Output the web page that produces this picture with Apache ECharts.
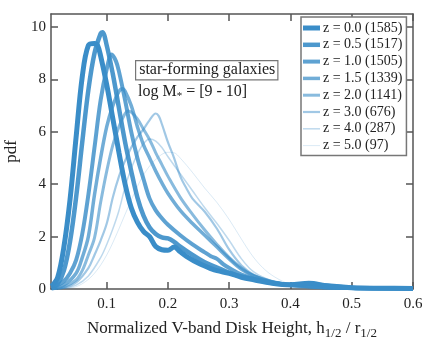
<!DOCTYPE html>
<html>
<head>
<meta charset="utf-8">
<script src="https://cdn.jsdelivr.net/npm/echarts@6/dist/echarts.min.js"></script>
<style>
  html, body { margin: 0; padding: 0; background: #fff; }
  #chart { width: 436px; height: 337px; }
</style>
</head>
<body>
<div id="chart"></div>
<script>
// legend labels, one per redshift bin
const labels = ["z = 0.0 (1585)", "z = 0.5 (1517)", "z = 1.0 (1505)", "z = 1.5 (1339)",
  "z = 2.0 (1141)", "z = 3.0 (676)", "z = 4.0 (287)", "z = 5.0 (97)"];

// pdf curves, [h/r, pdf]
const z00 = [[0.01,0.1],[0.02,0.45],[0.03,1.6],[0.04,3.4],[0.05,5.8],[0.06,8.1],[0.07,9.3],[0.08,9.37],[0.085,9.3],[0.09,8.9],[0.1,7.8],[0.11,6.5],[0.12,5.2],[0.13,4.0],[0.14,3.1],[0.15,2.55],[0.16,2.2],[0.17,2.0],[0.18,1.62],[0.19,1.5],[0.2,1.48],[0.21,1.6],[0.22,1.42],[0.23,1.25],[0.25,0.98],[0.27,0.78],[0.28,0.7],[0.3,0.6],[0.32,0.45],[0.34,0.35],[0.37,0.22],[0.4,0.16],[0.43,0.22],[0.46,0.12],[0.5,0.05],[0.55,0.03],[0.6,0.02]];
const z05 = [[0.01,0.05],[0.02,0.2],[0.03,0.7],[0.04,1.8],[0.05,3.5],[0.06,5.6],[0.07,7.6],[0.08,9.0],[0.09,9.75],[0.093,9.8],[0.1,9.3],[0.11,8.2],[0.12,6.9],[0.13,5.6],[0.14,4.5],[0.15,3.5],[0.16,2.8],[0.17,2.35],[0.18,2.1],[0.19,1.97],[0.2,1.93],[0.21,1.8],[0.22,1.62],[0.24,1.3],[0.26,1.02],[0.28,0.82],[0.3,0.62],[0.32,0.48],[0.35,0.33],[0.38,0.2],[0.4,0.16],[0.43,0.2],[0.46,0.12],[0.5,0.05],[0.6,0.02]];
const z10 = [[0.01,0.02],[0.03,0.3],[0.04,0.6],[0.05,1.1],[0.06,2.1],[0.07,3.6],[0.08,5.4],[0.09,7.2],[0.1,8.4],[0.108,8.95],[0.115,8.7],[0.12,8.3],[0.13,7.2],[0.14,6.0],[0.15,5.0],[0.16,4.2],[0.17,3.45],[0.18,3.0],[0.19,2.7],[0.2,2.45],[0.22,2.05],[0.24,1.7],[0.26,1.4],[0.27,1.25],[0.28,1.15],[0.29,0.95],[0.3,0.8],[0.32,0.55],[0.35,0.33],[0.38,0.2],[0.4,0.15],[0.45,0.08],[0.5,0.04],[0.6,0.01]];
const z15 = [[0.01,0.01],[0.03,0.15],[0.05,0.6],[0.06,1.2],[0.07,2.0],[0.08,3.6],[0.09,5.0],[0.1,6.2],[0.11,7.0],[0.12,7.55],[0.126,7.65],[0.13,7.55],[0.14,7.0],[0.15,6.2],[0.16,5.5],[0.17,5.0],[0.18,4.5],[0.19,4.05],[0.2,3.65],[0.22,3.0],[0.24,2.5],[0.26,2.05],[0.28,1.6],[0.3,1.15],[0.32,0.75],[0.34,0.5],[0.37,0.28],[0.4,0.15],[0.45,0.06],[0.5,0.03],[0.6,0.01]];
const z20 = [[0.01,0],[0.03,0.08],[0.05,0.35],[0.06,0.7],[0.07,1.3],[0.08,1.95],[0.09,3.3],[0.1,4.5],[0.11,5.5],[0.12,6.2],[0.13,6.7],[0.135,6.8],[0.14,6.75],[0.15,6.5],[0.16,6.1],[0.17,5.7],[0.18,5.2],[0.19,4.75],[0.2,4.3],[0.22,3.5],[0.24,2.85],[0.26,2.25],[0.28,1.7],[0.3,1.2],[0.32,0.8],[0.34,0.5],[0.37,0.28],[0.4,0.15],[0.45,0.06],[0.5,0.02],[0.6,0]];
const z30 = [[0.01,0],[0.03,0.05],[0.05,0.25],[0.07,0.8],[0.08,1.3],[0.09,1.85],[0.1,2.5],[0.11,3.5],[0.12,4.3],[0.13,4.9],[0.14,5.4],[0.15,5.8],[0.16,6.1],[0.17,6.45],[0.18,6.7],[0.185,6.6],[0.19,6.3],[0.2,5.6],[0.21,5.0],[0.22,4.3],[0.23,3.85],[0.24,3.45],[0.26,2.95],[0.28,2.3],[0.3,1.5],[0.32,0.9],[0.34,0.55],[0.37,0.25],[0.4,0.1],[0.45,0.03],[0.5,0.01],[0.6,0]];
const z40 = [[0.01,0],[0.03,0.03],[0.05,0.15],[0.07,0.5],[0.09,1.2],[0.1,1.7],[0.11,2.3],[0.12,3.0],[0.13,3.9],[0.14,4.6],[0.15,5.15],[0.16,5.55],[0.17,5.73],[0.18,5.65],[0.19,5.4],[0.2,5.05],[0.22,4.4],[0.24,3.75],[0.26,3.1],[0.28,2.5],[0.3,1.85],[0.32,1.15],[0.34,0.65],[0.37,0.3],[0.4,0.12],[0.45,0.03],[0.5,0.01],[0.6,0]];
const z50 = [[0.01,0],[0.04,0.03],[0.06,0.2],[0.08,0.6],[0.1,1.3],[0.12,2.3],[0.14,3.4],[0.16,4.35],[0.18,4.95],[0.2,5.22],[0.21,5.2],[0.22,5.0],[0.24,4.45],[0.26,3.85],[0.28,3.3],[0.3,2.65],[0.32,1.9],[0.34,1.2],[0.36,0.7],[0.38,0.38],[0.4,0.18],[0.43,0.05],[0.5,0.01],[0.6,0]];

const xTicks = [0.1, 0.2, 0.3, 0.4, 0.5, 0.6];
const yTicks = [0, 2, 4, 6, 8, 10];

const curves = [z00, z05, z10, z15, z20, z30, z40, z50];
const widths = [5, 4.5, 4, 3.5, 3, 2.2, 1.5, 1];
const alphas = [1, 0.9, 0.82, 0.72, 0.6, 0.48, 0.33, 0.18];

const serif = "'Liberation Serif', 'DejaVu Serif', serif";
const frame = "#555";

function blue(a) {
  return "rgba(58,141,200," + a + ")";
}

let chart = echarts.init(document.getElementById("chart"));

let series = [];
let legendItems = [];
for (let i = 0; i < curves.length; i++) {
  series.push({
    name: labels[i],
    type: "line",
    data: curves[i],
    smooth: 0.35,
    symbol: "none",
    z: 20 - i,
    lineStyle: { width: widths[i], color: blue(alphas[i]) },
    itemStyle: { color: blue(alphas[i]) },
  });
  // flat bar as legend sample, as thick as the line
  legendItems.push({
    name: labels[i],
    icon: "path://M0,0H34V" + widths[i] * 2 + "H0Z",
    itemStyle: { color: blue(alphas[i]), borderWidth: 0 },
  });
}

function tickAxis(pos, isX, showLabel) {
  let ax = {
    type: "value",
    position: pos,
    min: isX ? 0.009 : 0,
    max: isX ? 0.6 : 10.5,
    splitLine: { show: false },
    axisLine: { show: true, onZero: false, lineStyle: { color: frame, width: 1.5 } },
    axisTick: { show: true, inside: true, length: 7, lineStyle: { color: frame, width: 1.5 },
      customValues: isX ? xTicks : yTicks },
    axisLabel: { show: showLabel, fontFamily: serif, fontSize: 15, color: "#222",
      margin: isX ? 8 : 5, customValues: isX ? xTicks : yTicks },
  };
  return ax;
}

let xMain = tickAxis("bottom", true, true);
xMain.name = "{a|Normalized V-band Disk Height, h}{s|1/2}{a| / r}{s|1/2}";
xMain.nameLocation = "middle";
xMain.nameGap = 25;
xMain.nameTextStyle = {
  rich: {
    a: { fontFamily: serif, fontSize: 17, color: "#222", lineHeight: 20 },
    s: { fontFamily: serif, fontSize: 13, color: "#222", padding: [10, 0, 0, 0], lineHeight: 20 },
  },
};
let yMain = tickAxis("left", false, true);
yMain.name = "pdf";
yMain.nameLocation = "middle";
yMain.nameGap = 21;
yMain.nameTextStyle = { fontFamily: serif, fontSize: 17, color: "#222" };

let option = {
  animation: false,
  backgroundColor: "#fff",
  grid: { left: 51, right: 23, top: 14, bottom: 48, containLabel: false, outerBoundsMode: "none" },
  xAxis: [xMain, tickAxis("top", true, false)],
  yAxis: [yMain, tickAxis("right", false, false)],
  legend: {
    data: legendItems,
    orient: "vertical",
    left: 301,
    top: 17,
    itemWidth: 17,
    itemHeight: 14,
    itemGap: 2.8,
    padding: [4, 4, 3, 2],
    borderColor: "#777",
    borderWidth: 1.5,
    backgroundColor: "#fff",
    textStyle: { fontFamily: serif, fontSize: 14, color: "#222", padding: [0, 0, 0, -2] },
  },
  graphic: [
    {
      type: "text",
      left: 135,
      top: 60,
      z: 50,
      style: {
        text: "star-forming galaxies",
        font: "16px " + serif,
        fill: "#222",
        backgroundColor: "#fff",
        borderColor: "#777",
        borderWidth: 1.2,
        padding: [1, 2, 1, 3],
      },
    },
    {
      type: "text",
      left: 138,
      top: 84,
      z: 50,
      style: {
        text: "log M{s|*} = [9 - 10]",
        font: "16px " + serif,
        fill: "#222",
        rich: { s: { font: "11px " + serif, fill: "#222", padding: [8, 0, 0, 0] } },
      },
    },
  ],
  series: series,
};

chart.setOption(option);
</script>
</body>
</html>
